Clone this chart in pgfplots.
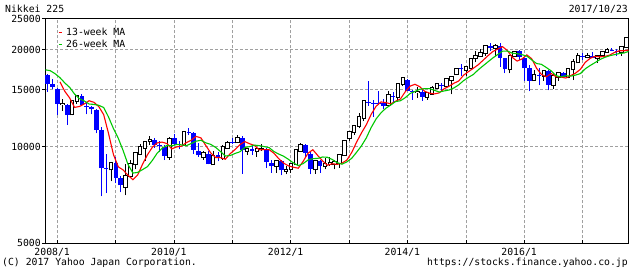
\documentclass[border=0pt]{standalone}
\usepackage{fontspec}
\setmainfont{DejaVu Sans Mono}
\usepackage{pgfplots}
\usepackage{pgfplotstable}
\pgfplotsset{compat=1.18}
\definecolor{cblue}{RGB}{0,0,255}
\definecolor{cred}{RGB}{255,0,0}
\definecolor{cgreen}{RGB}{0,200,0}
\definecolor{cgrid}{RGB}{160,160,160}

% months since 2008/1 ; open high low close  (falling months)
\pgfplotstableread{
m O H L C
-2 16700 16800 14837 15680
-1 15700 16200 15100 15307
0 15150 15200 12573 13592
2 13500 13600 11691 12525
5 14400 14600 13400 13481
6 13400 13700 12600 13376
7 13300 13400 12600 13072
8 13000 13100 11000 11259
9 11300 11500 6994 8576
10 8600 9500 7162 8512
12 8900 9300 7700 7994
13 8000 8100 7200 7568
20 10500 10600 9900 10133
21 10100 10400 9600 10034
22 10000 10100 9076 9345
24 10600 10982 10100 10198
25 10200 10400 9800 10126
27 11100 11400 10900 11057
28 11000 11100 9500 9768
29 9700 10250 9300 9382
31 9500 9700 8800 8824
33 9400 9600 9000 9202
36 10300 10600 10200 10238
38 10600 10800 8227 9755
40 9800 10100 9400 9693
43 9800 9900 8600 8955
44 8900 9100 8300 8700
46 9000 9100 8135 8434
51 10100 10190 9300 9521
52 9500 9600 8200 8543
54 9000 9100 8300 8695
64 13800 15942 13400 13775
65 13700 14000 12400 13677
66 13700 14900 13500 13668
67 13700 14100 13100 13389
69 14400 14800 13800 14328
72 16100 16200 14900 14915
73 14900 15000 13995 14841
75 14800 15000 13885 14304
79 15600 15800 14800 15425
83 17500 18030 16600 17450
89 20600 20953 19900 20236
91 20600 20946 17700 18890
92 18800 18900 16900 17388
95 19800 20000 18600 19034
96 18800 18900 16000 17518
97 17500 17900 14865 16027
99 16700 17600 15500 16666
101 17200 17300 14952 15576
104 16900 17100 16300 16450
108 19100 19600 18600 19041
110 19100 19700 18900 18909
114 20000 20200 19800 19925
115 19900 20100 19200 19646
}\downtab

% rising months
\pgfplotstableread{
m O H L C
1 13600 14100 12900 13603
3 12600 13900 12500 13849
4 13900 14400 13600 14338
11 8500 8900 7800 8859
14 7500 8800 7054 8109
15 8100 9100 8000 8828
16 8800 9600 8500 9522
17 9500 10170 9400 9958
18 9900 10400 9050 10357
19 10400 10767 10100 10492
23 9300 10700 9100 10546
26 10100 11100 10100 11089
30 9300 9700 9100 9537
32 8800 9700 8800 9369
34 9200 10100 9100 9937
35 9900 10400 9900 10229
37 10300 10900 10300 10624
39 9700 9900 9400 9850
41 9700 9900 9300 9816
42 9800 10200 9700 9833
45 8700 9100 8300 8988
47 8400 8700 8200 8455
48 8500 8900 8300 8802
49 8800 9800 8800 9723
50 9700 10255 9700 10083
53 8500 9100 8238 9007
55 8700 9200 8500 8840
56 8800 9300 8700 8870
57 8800 9100 8500 8928
58 8900 9500 8600 9446
59 9400 10400 9400 10395
60 10600 11200 10400 11139
61 11100 11600 10900 11559
62 11600 12700 11400 12398
63 12300 14000 12000 13861
68 13500 14900 13400 14456
70 14300 15700 14000 15662
71 15700 16320 15400 16291
74 14800 15300 14200 14828
76 14300 14700 13965 14632
77 14600 15400 14600 15162
78 15200 15600 15100 15621
80 15400 16400 15400 16174
81 16100 16500 14529 16414
82 16800 17500 16700 17460
84 17300 17800 16600 17674
85 17600 18800 17600 18798
86 18800 19800 18300 19207
87 19200 20100 19000 19520
88 19500 20600 19200 20563
90 20200 20800 19100 20585
93 17400 19100 16900 19083
94 19100 19900 19000 19747
98 16100 17300 16000 16759
100 16600 17300 16000 17235
102 15600 16900 15100 16569
103 16500 17000 16000 16887
105 16500 17500 16300 17425
106 17400 18700 16111 18308
107 18300 19600 18200 19114
109 19000 19500 18800 19119
111 18900 19300 18200 19197
112 19300 19800 19200 19651
113 19700 20300 19600 20033
116 19700 20500 19200 20356
117 20400 21800 20300 21696
}\uptab

% moving averages: r = 13-week, g = 26-week
\pgfplotstableread{
m r g
-3 16867 17336
-2 16697 17226
-1 16401 16860
0 15908 16388
1 14860 15779
2 14167 15284
3 13240 14574
4 13326 14093
5 13571 13869
6 13889 13565
7 13732 13529
8 13310 13441
9 12569 13229
10 10969 12351
11 9449 11380
12 8649 10609
13 8455 9712
14 8140 8795
15 7890 8270
16 8168 8312
17 8820 8480
18 9436 8663
19 9946 9057
20 10269 9545
21 10327 9882
22 10220 10083
23 9837 10053
24 9975 10151
25 10030 10125
26 10290 10064
27 10471 10223
28 10757 10394
29 10638 10464
30 10069 10270
31 9562 10160
32 9248 9943
33 9243 9656
34 9132 9347
35 9503 9376
36 9789 9516
37 10135 9634
38 10364 9934
39 10206 9998
40 10076 10106
41 9766 10065
42 9786 9996
43 9781 9929
44 9535 9651
45 9163 9475
46 8881 9331
47 8707 9121
48 8626 8895
49 8564 8723
50 8993 8850
51 9536 9081
52 9776 9170
53 9382 9188
54 9024 9280
55 8748 9262
56 8847 9115
57 8802 8913
58 8879 8814
59 9081 8964
60 9590 9196
61 10327 9603
62 11031 10056
63 11699 10645
64 12606 11467
65 13345 12188
66 13771 12735
67 13707 13157
68 13578 13462
69 13838 13805
70 14058 13883
71 14815 14197
72 15427 14633
73 15623 14841
74 15349 15082
75 14861 15144
76 14658 15141
77 14588 14969
78 14699 14780
79 15138 14898
80 15403 14996
81 15740 15220
82 16004 15571
83 16683 16043
84 17108 16424
85 17528 16766
86 17974 17329
87 18560 17834
88 19175 18352
89 19763 18869
90 20106 19333
91 20461 19818
92 19904 19834
93 18954 19530
94 18454 19458
95 18739 19322
96 19288 19121
97 18766 18610
98 17526 18133
99 16768 18028
100 16484 17625
101 16887 17207
102 16492 16630
103 16460 16472
104 16344 16616
105 16635 16564
106 16921 16691
107 17394 16869
108 18282 17459
109 18821 17871
110 19091 18243
111 19023 18653
112 19075 18948
113 19252 19172
114 19627 19325
115 19870 19473
116 19868 19560
117 19976 19802
}\matab

\begin{document}
\begin{tikzpicture}[font=\fontsize{9.8bp}{11bp}\selectfont]
\path[use as bounding box] (0,0) rectangle (630bp,273bp);
\begin{axis}[
  at={(45bp,29.7bp)}, anchor=south west,
  scale only axis, width=583.5bp, height=224.6bp,
  xmin=-2.57, xmax=117.4,
  ymin=8.517193, ymax=10.126631,
  xtick={0,12,...,108},
  xticklabels={2008/1,,2010/1,,2012/1,,2014/1,,2016/1,},
  ytick={8.517193,9.210340,9.615805,9.903488,10.126631},
  yticklabels={5000,10000,15000,20000,25000},
  tick pos=left,
  tick align=inside,
  major tick length=3bp,
  tick style={black, line width=1bp},
  ytick style={xshift=-3bp},
  xticklabel style={anchor=base, inner sep=0pt, yshift=-12.2bp, xshift=-5.3bp},
  yticklabel style={anchor=east, inner sep=0pt, xshift=-4bp},
  grid=major,
  major grid style={cgrid, line width=1bp, dash pattern=on 3bp off 2bp},
  axis line style={black, line width=1bp},
  legend style={at={(0.0223,0.960)}, anchor=north west, draw=none, fill=none,
    inner sep=0pt, row sep=3.3bp, nodes={inner sep=0pt},
    /tikz/every odd column/.append style={column sep=4bp}},
  legend image code/.code={\draw[#1, line width=1bp] (0bp,0bp) -- (3bp,0bp);},
]
% falling months: wicks and bodies
\addplot[forget plot, draw=none, mark=none, error bars/.cd, y dir=plus, y explicit, error mark=none,
  error bar style={draw=cblue, line width=1bp}]
  table[x=m, y expr={ln(\thisrow{L})}, y error expr={ln(\thisrow{H})-ln(\thisrow{L})}] {\downtab};
\addplot[forget plot, draw=none, mark=none, error bars/.cd, y dir=plus, y explicit, error mark=none,
  error bar style={draw=cblue, line width=4.6bp}]
  table[x=m, y expr={ln(\thisrow{C})}, y error expr={ln(\thisrow{O})-ln(\thisrow{C})}] {\downtab};
% rising months: wicks, outline, white body
\addplot[forget plot, draw=none, mark=none, error bars/.cd, y dir=plus, y explicit, error mark=none,
  error bar style={draw=black, line width=1bp}]
  table[x=m, y expr={ln(\thisrow{L})}, y error expr={ln(\thisrow{H})-ln(\thisrow{L})}] {\uptab};
\addplot[forget plot, draw=none, mark=none, error bars/.cd, y dir=plus, y explicit, error mark=none,
  error bar style={draw=black, line width=4.6bp}]
  table[x=m, y expr={ln(\thisrow{O})-0.00716}, y error expr={ln(\thisrow{C})-ln(\thisrow{O})+0.01432}] {\uptab};
\addplot[forget plot, draw=none, mark=none, error bars/.cd, y dir=plus, y explicit, error mark=none,
  error bar style={draw=white, line width=2.6bp}]
  table[x=m, y expr={ln(\thisrow{O})}, y error expr={ln(\thisrow{C})-ln(\thisrow{O})}] {\uptab};
% moving averages
\addplot[cred, line width=1.1bp, mark=none, restrict x to domain=0:200]
  table[x expr={\thisrow{m}+0.5}, y expr={ln(\thisrow{r})}] {\matab};
\addlegendentry{13-week MA}
\addplot[cgreen, line width=1.1bp, mark=none]
  table[x expr={\thisrow{m}+0.5}, y expr={ln(\thisrow{g})}] {\matab};
\addlegendentry{26-week MA}
\end{axis}
\node[anchor=base west, inner sep=0pt] at (5bp,260.3bp) {Nikkei 225};
\node[anchor=base east, inner sep=0pt] at (628bp,260.3bp) {2017/10/23};
\node[anchor=base west, inner sep=0pt] at (2bp,7.7bp) {(C) 2017 Yahoo Japan Corporation.};
\node[anchor=base east, inner sep=0pt] at (628bp,7.7bp) {https://stocks.finance.yahoo.co.jp};
\end{tikzpicture}
\end{document}
